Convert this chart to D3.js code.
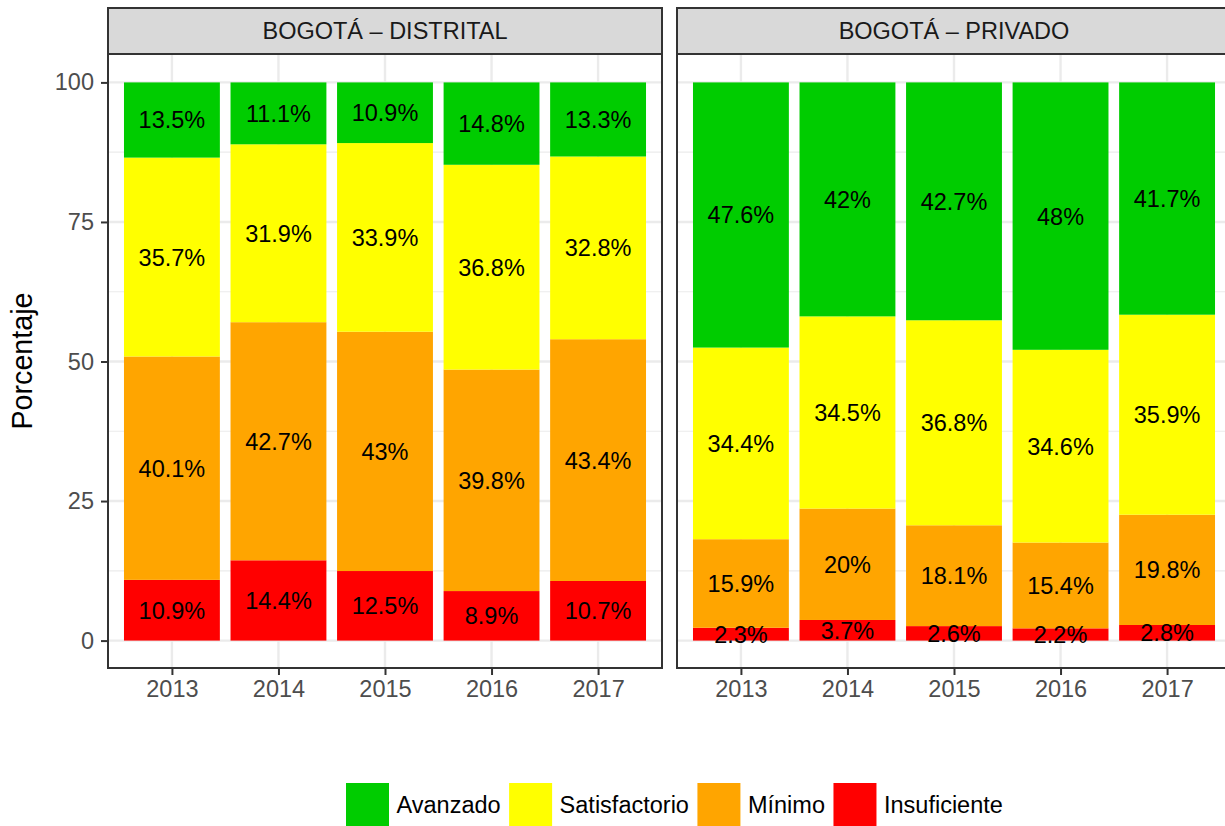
<!DOCTYPE html>
<html>
<head>
<meta charset="utf-8">
<script src="https://cdn.jsdelivr.net/npm/d3@7"></script>
<style>
  html, body { margin: 0; padding: 0; background: #fff; }
  svg { display: block; font-family: "Liberation Sans", Arial, sans-serif; }
</style>
</head>
<body>
<div id="chart"></div>
<script>
// --------------- Data ---------------
const YEARS = ["2013", "2014", "2015", "2016", "2017"];
const LEVELS = ["Avanzado", "Satisfactorio", "Mínimo", "Insuficiente"];
const LEVEL_COLORS = ["#00CC00", "#FFFF00", "#FFA500", "#FF0000"];
const PANELS = ["BOGOTÁ – DISTRITAL", "BOGOTÁ – PRIVADO"];
const Y_TICKS = [0, 25, 50, 75, 100];

const distritalAvanzado = [13.5, 11.1, 10.9, 14.8, 13.3];
const distritalSatisfactorio = [35.7, 31.9, 33.9, 36.8, 32.8];
const distritalMinimo = [40.1, 42.7, 43, 39.8, 43.4];
const distritalInsuficiente = [10.9, 14.4, 12.5, 8.9, 10.7];

const privadoAvanzado = [47.6, 42, 42.7, 48, 41.7];
const privadoSatisfactorio = [34.4, 34.5, 36.8, 34.6, 35.9];
const privadoMinimo = [15.9, 20, 18.1, 15.4, 19.8];
const privadoInsuficiente = [2.3, 3.7, 2.6, 2.2, 2.8];

// table rows per panel, built from the arrays above
function buildRows(av, sa, mi, ins) {
  return YEARS.map((year, i) => ({
    year,
    "Avanzado": av[i],
    "Satisfactorio": sa[i],
    "Mínimo": mi[i],
    "Insuficiente": ins[i]
  }));
}
const panelRows = [
  buildRows(distritalAvanzado, distritalSatisfactorio, distritalMinimo, distritalInsuficiente),
  buildRows(privadoAvanzado, privadoSatisfactorio, privadoMinimo, privadoInsuficiente)
];

// --------------- Layout ---------------
const WIDTH = 1225;
const HEIGHT = 826;
const PANEL_W = 554;
const PANEL_X = [108, 677];
const STRIP_TOP = 8;
const STRIP_H = 46;
const PANEL_TOP = STRIP_TOP + STRIP_H;
const PANEL_BOTTOM = 668;
const FONT = 23.5;
const GRID = "#EBEBEB";
const DARK = "#333333";

const svg = d3
  .select("#chart")
  .append("svg")
  .attr("width", WIDTH)
  .attr("height", HEIGHT);

const y = d3
  .scaleLinear()
  .domain([-5, 105])
  .range([PANEL_BOTTOM + 0.5, PANEL_TOP + 0.5]);

const color = d3.scaleOrdinal().domain(LEVELS).range(LEVEL_COLORS);

// stack bottom -> top, normalised like position_fill
const stack = d3
  .stack()
  .keys(LEVELS.slice().reverse())
  .offset(d3.stackOffsetExpand);

PANELS.forEach((title, p) => {
  const x0 = PANEL_X[p];
  const x = d3
    .scalePoint()
    .domain(YEARS)
    .range([x0, x0 + PANEL_W])
    .padding(0.6);
  const barW = x.step() * 0.9;

  const g = svg.append("g");

  // panel background + grid
  g.append("rect")
    .attr("x", x0).attr("y", PANEL_TOP)
    .attr("width", PANEL_W).attr("height", PANEL_BOTTOM - PANEL_TOP)
    .attr("fill", "#fff");

  g.append("g")
    .selectAll("line")
    .data([12.5, 37.5, 62.5, 87.5])
    .enter()
    .append("line")
    .attr("x1", x0).attr("x2", x0 + PANEL_W)
    .attr("y1", d => y(d)).attr("y2", d => y(d))
    .attr("stroke", GRID).attr("stroke-width", 1.2);

  g.append("g")
    .selectAll("line")
    .data(Y_TICKS)
    .enter()
    .append("line")
    .attr("x1", x0).attr("x2", x0 + PANEL_W)
    .attr("y1", d => y(d)).attr("y2", d => y(d))
    .attr("stroke", GRID).attr("stroke-width", 2.4);

  g.append("g")
    .selectAll("line")
    .data(YEARS)
    .enter()
    .append("line")
    .attr("x1", d => x(d)).attr("x2", d => x(d))
    .attr("y1", PANEL_TOP).attr("y2", PANEL_BOTTOM)
    .attr("stroke", GRID).attr("stroke-width", 2.4);

  // bars
  const series = stack(panelRows[p]);
  const layer = g
    .append("g")
    .selectAll("g")
    .data(series)
    .enter()
    .append("g")
    .attr("fill", d => color(d.key));

  layer
    .selectAll("rect")
    .data(d => d)
    .enter()
    .append("rect")
    .attr("x", d => x(d.data.year) - barW / 2)
    .attr("width", barW)
    .attr("y", d => y(d[1] * 100))
    .attr("height", d => y(d[0] * 100) - y(d[1] * 100));

  // labels in the middle of every segment
  g.append("g")
    .selectAll("g")
    .data(series)
    .enter()
    .append("g")
    .selectAll("text")
    .data(d => d.map(s => ({ s, key: d.key })))
    .enter()
    .append("text")
    .attr("x", d => x(d.s.data.year))
    .attr("y", d => y((d.s[0] + d.s[1]) / 2 * 100))
    .attr("dy", "0.36em")
    .attr("text-anchor", "middle")
    .attr("font-size", 23.5)
    .attr("fill", "#000")
    .text(d => `${d.s.data[d.key]}%`);

  // panel border
  g.append("rect")
    .attr("x", x0).attr("y", PANEL_TOP)
    .attr("width", PANEL_W).attr("height", PANEL_BOTTOM - PANEL_TOP)
    .attr("fill", "none")
    .attr("stroke", DARK).attr("stroke-width", 2);

  // strip
  g.append("rect")
    .attr("x", x0).attr("y", STRIP_TOP)
    .attr("width", PANEL_W).attr("height", STRIP_H)
    .attr("fill", "#D9D9D9")
    .attr("stroke", DARK).attr("stroke-width", 2);

  g.append("text")
    .attr("x", x0 + PANEL_W / 2)
    .attr("y", STRIP_TOP + STRIP_H / 2)
    .attr("dy", "0.36em")
    .attr("text-anchor", "middle")
    .attr("font-size", FONT)
    .attr("fill", "#1A1A1A")
    .text(title);

  // x axis
  const xAxis = g
    .append("g")
    .attr("transform", `translate(0,${PANEL_BOTTOM})`)
    .call(d3.axisBottom(x).tickSize(7).tickPadding(5));
  xAxis.select(".domain").remove();
  xAxis.selectAll(".tick line").attr("stroke", DARK).attr("stroke-width", 2);
  xAxis.selectAll(".tick text")
    .attr("font-size", FONT)
    .attr("font-family", "Liberation Sans, Arial, sans-serif")
    .attr("fill", "#4D4D4D");

  // y axis only on the first panel
  if (p === 0) {
    const yAxis = g
      .append("g")
      .attr("transform", `translate(${x0},0)`)
      .call(d3.axisLeft(y).tickValues(Y_TICKS).tickSize(7).tickPadding(7));
    yAxis.select(".domain").remove();
    yAxis.selectAll(".tick line").attr("stroke", DARK).attr("stroke-width", 2);
    yAxis.selectAll(".tick text")
      .attr("font-size", FONT)
      .attr("font-family", "Liberation Sans, Arial, sans-serif")
      .attr("fill", "#4D4D4D");
  }
});

// --------------- Axis title ---------------
svg.append("text")
  .attr("transform", `translate(32,${(PANEL_TOP + PANEL_BOTTOM) / 2}) rotate(-90)`)
  .attr("text-anchor", "middle")
  .attr("font-size", 28.7)
  .attr("fill", "#000")
  .text("Porcentaje");

// --------------- Legend ---------------
const KEY = 43;
const legend = svg.append("g").attr("transform", "translate(346,783)");
let cursor = 0;
LEVELS.forEach(level => {
  legend.append("rect")
    .attr("x", cursor).attr("y", 0)
    .attr("width", KEY).attr("height", KEY)
    .attr("fill", color(level));
  const t = legend.append("text")
    .attr("x", cursor + KEY + 7.5)
    .attr("y", KEY / 2)
    .attr("dy", "0.36em")
    .attr("font-size", FONT)
    .attr("fill", "#000")
    .text(level);
  cursor += KEY + 7.5 + t.node().getComputedTextLength() + 8.5;
});
</script>
</body>
</html>
